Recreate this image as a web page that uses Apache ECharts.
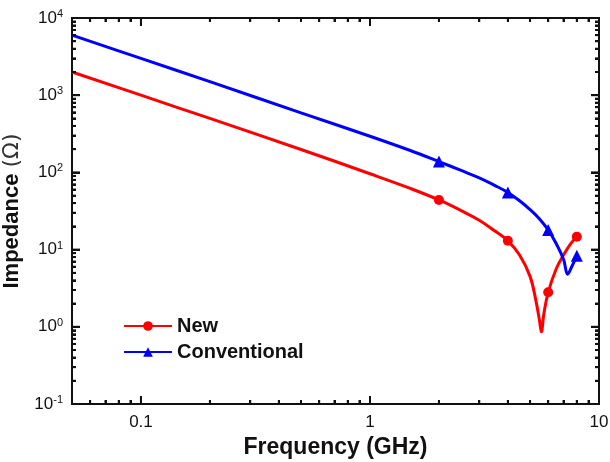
<!DOCTYPE html>
<html>
<head>
<meta charset="utf-8">
<script src="https://cdn.jsdelivr.net/npm/echarts@6/dist/echarts.min.js"></script>
<style>
  html, body { margin: 0; padding: 0; background: #fff; }
  #chart { width: 610px; height: 462px; }
</style>
</head>
<body>
<div id="chart"></div>
<script>
// frequency (GHz) and impedance (ohm)
var freqNew = [0.05, 0.1, 0.2, 0.5, 1, 1.5, 2, 2.5, 3, 3.5, 4, 4.5, 5, 5.3, 5.5, 5.6, 5.75, 6, 6.5, 7, 7.5, 8];
var impNew  = [2000, 1000, 500, 198, 96, 62, 44, 32, 24, 17.5, 13, 8.5, 4.5, 2.2, 1.2, 0.86, 1.5, 2.8, 5.6, 8.5, 11.8, 14.7];
var freqConv = [0.05, 0.1, 0.2, 0.5, 1, 1.5, 2, 2.5, 3, 3.5, 4, 4.5, 5, 5.5, 6, 6.5, 7, 7.3, 7.6, 8];
var impConv  = [6000, 3000, 1500, 590, 294, 192, 138, 106, 85, 68, 55, 43, 33, 25, 18, 12, 7.5, 4.8, 6, 8.3];
var markerFreqs = [2, 4, 6, 8];

// axis ticks
var xMajor = [0.1, 1, 10];
var xMinor = [0.06, 0.07, 0.08, 0.09, 0.2, 0.3, 0.4, 0.5, 0.6, 0.7, 0.8, 0.9, 2, 3, 4, 5, 6, 7, 8, 9];
var yMajor = [0.1, 1, 10, 100, 1000, 10000];
var yMinor = [];
for (var d = -1; d < 4; d++) {
	for (var m = 2; m < 10; m++) yMinor.push(m * Math.pow(10, d));
}

var FONT = 'Liberation Sans, Arial, sans-serif';
var black = '#111';
var X0 = 0.05, X1 = 10, Y0 = 0.1, Y1 = 10000;

function pts(fx, fy) {
	return fx.map(function (f, i) {
		var item = { value: [f, fy[i]] };
		if (markerFreqs.indexOf(f) < 0) item.symbol = 'none';
		return item;
	});
}
function lg(arr) { return arr.map(function (v) { return Math.log10(v); }); }

// value axes in log10 units used only for their inward ticks
function tickAx(pos, lo, hi, vals, len) {
	return {
		type: 'value', min: lo, max: hi, position: pos,
		axisLine: { show: true, onZero: false, lineStyle: { color: black, width: 2 } },
		axisTick: { show: true, inside: true, length: len, customValues: lg(vals), lineStyle: { color: black, width: 2 } },
		axisLabel: { show: true, margin: 300, color: 'rgba(0,0,0,0)' },
		splitLine: { show: false }
	};
}

// the same ticks drawn by a custom series through the log axes
function tickSeries(vals, side, len) {
	var data = vals.map(function (v) {
		if (side === 'bottom') return [v, Y0];
		if (side === 'top') return [v, Y1];
		if (side === 'left') return [X0, v];
		return [X1, v];
	});
	var dx = side === 'left' ? len : side === 'right' ? -len : 0;
	var dy = side === 'bottom' ? -len : side === 'top' ? len : 0;
	return {
		type: 'custom', clip: false, z: 4,
		renderItem: function (params, api) {
			var p = api.coord([api.value(0), api.value(1)]);
			return {
				type: 'line',
				shape: { x1: p[0], y1: p[1], x2: p[0] + dx, y2: p[1] + dy },
				style: { stroke: black, lineWidth: 2 }
			};
		},
		data: data
	};
}

var boxLine = { show: true, onZero: false, lineStyle: { color: black, width: 2 } };
var xl = Math.log10(X0), xh = Math.log10(X1), yl = Math.log10(Y0), yh = Math.log10(Y1);

var chart = echarts.init(document.getElementById('chart'));
chart.setOption({
	animation: false,
	grid: { left: 72, right: 11, top: 18, bottom: 58, outerBoundsMode: 'none', containLabel: false },
	legend: {
		orient: 'vertical', left: 118, top: 311, itemGap: 6,
		itemWidth: 48, itemHeight: 12,
		textStyle: { color: black, fontSize: 20, fontWeight: 'bold', fontFamily: FONT },
		data: ['New', 'Conventional']
	},
	xAxis: [
		{
			type: 'log', min: X0, max: X1, position: 'bottom',
			axisLine: boxLine, axisTick: { show: false },
			axisLabel: {
				customValues: xMajor, margin: 10, color: black, fontSize: 17, fontFamily: FONT,
				formatter: function (v) { return v >= 1 ? String(Math.round(v)) : String(+v.toFixed(2)); }
			},
			splitLine: { show: false },
			name: 'Frequency (GHz)', nameLocation: 'middle', nameGap: 31,
			nameTextStyle: { color: black, fontSize: 23, fontWeight: 'bold', fontFamily: FONT }
		},
		tickAx('bottom', xl, xh, xMajor, 8),
		tickAx('bottom', xl, xh, xMinor, 4),
		tickAx('top', xl, xh, xMajor, 8),
		tickAx('top', xl, xh, xMinor, 4)
	],
	yAxis: [
		{
			type: 'log', min: Y0, max: Y1, position: 'left',
			axisLine: boxLine, axisTick: { show: false },
			axisLabel: {
				customValues: yMajor, margin: 9, color: black, fontSize: 17, fontFamily: FONT,
				formatter: function (v) { return '10{s|' + Math.round(Math.log10(v)) + '}'; },
				rich: { s: { fontSize: 11, fontFamily: FONT, color: black, padding: [0, 0, 8, 0] } }
			},
			splitLine: { show: false },
			name: 'Impedance {n|(Ω)}', nameLocation: 'middle', nameGap: 43,
			nameTextStyle: {
				color: black, fontSize: 22, fontWeight: 'bold', fontFamily: FONT,
				rich: { n: { fontSize: 22, fontWeight: 'normal', color: '#333', fontFamily: 'DejaVu Sans, sans-serif' } }
			}
		},
		tickAx('left', yl, yh, yMajor, 8),
		tickAx('left', yl, yh, yMinor, 4),
		tickAx('right', yl, yh, yMajor, 8),
		tickAx('right', yl, yh, yMinor, 4)
	],
	series: [
		{
			name: 'New', type: 'line', z: 3,
			symbol: 'circle', symbolSize: 10, smooth: 0.4,
			lineStyle: { color: '#ff0000', width: 3 }, itemStyle: { color: '#ff0000' },
			data: pts(freqNew, impNew)
		},
		{
			name: 'Conventional', type: 'line', z: 3,
			symbol: 'triangle', symbolSize: 12, smooth: 0.4,
			lineStyle: { color: '#0000ff', width: 3 }, itemStyle: { color: '#0000ff' },
			data: pts(freqConv, impConv)
		},
		tickSeries(xMajor, 'bottom', 8), tickSeries(xMinor, 'bottom', 4),
		tickSeries(xMajor, 'top', 8), tickSeries(xMinor, 'top', 4),
		tickSeries(yMajor, 'left', 8), tickSeries(yMinor, 'left', 4),
		tickSeries(yMajor, 'right', 8), tickSeries(yMinor, 'right', 4)
	]
});
</script>
</body>
</html>
